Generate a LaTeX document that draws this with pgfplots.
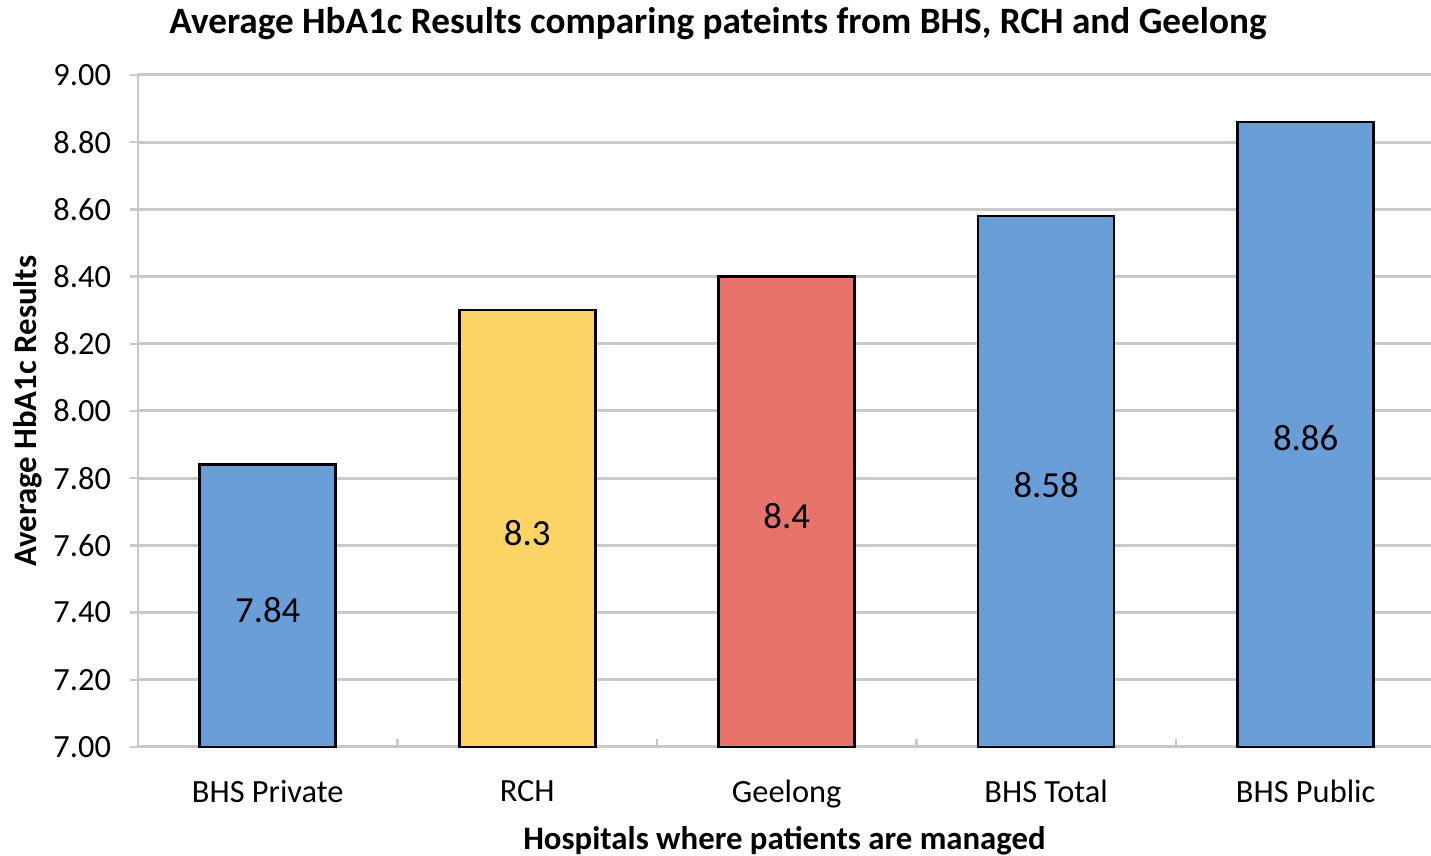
\documentclass[border=0pt]{standalone}
\usepackage{pgfplots}
\pgfplotsset{compat=1.18}
\usepackage{fontspec}
\setmainfont{Carlito}
\definecolor{cblue}{HTML}{6A9ED8}
\definecolor{cyellow}{HTML}{FCD466}
\definecolor{cred}{HTML}{E8736B}
\definecolor{cgrid}{HTML}{C9C9C9}
\begin{document}
\begin{tikzpicture}
\useasboundingbox (-69pt,-54.5pt) rectangle (646.5pt,373.5pt);
\begin{axis}[
  at={(0,0)}, anchor=south west,
  scale only axis, width=646.5pt, height=336pt,
  ybar, bar width=68pt,
  xmin=-0.5, xmax=4.483,
  ymin=7, ymax=9,
  ytick={7,7.2,...,9.01},
  yticklabel style={/pgf/number format/fixed, /pgf/number format/fixed zerofill, /pgf/number format/precision=2, xshift=-6pt},
  /pgf/number format/assume math mode=true,
  xtick={0,1,2,3,4},
  xticklabels={BHS Private, RCH, Geelong, BHS Total, BHS Public},
  minor xtick={-0.5,0.5,1.5,2.5,3.5},
  axis x line*=bottom, axis y line*=left,
  axis line style={cgrid, line width=1.2pt},
  ymajorgrids, grid style={cgrid, line width=1.5pt},
  major x tick style={draw=none},
  minor x tick style={cgrid, line width=1.2pt},
  minor tick length=4pt,
  major y tick style={cgrid, line width=1.2pt},
  major tick length=4pt,
  xtick align=inside, ytick align=outside,
  tick label style={font=\fontsize{16.2}{19}\selectfont, text=black},
  xticklabel style={yshift=-13pt},
  xlabel={\bfseries Hospitals where patients are managed},
  ylabel={\bfseries Average HbA1c Results},
  label style={font=\fontsize{16.4}{19}\selectfont\bfseries},
  xlabel style={yshift=-2.5pt},
  ylabel style={yshift=-1pt},
  clip=false,
  nodes near coords,
  visualization depends on=y \as \rawy,
  every node near coord/.append style={anchor=center, font=\fontsize{18.4}{21}\selectfont, text=black,
     shift={(axis direction cs:0,{(7-\rawy)/2})}, yshift=-2pt},
]
\addplot[fill=cblue, draw=black, line width=1.3pt, bar shift=0pt] coordinates {(0,7.84)};
\addplot[fill=cyellow, draw=black, line width=1.3pt, bar shift=0pt] coordinates {(1,8.3)};
\addplot[fill=cred, draw=black, line width=1.3pt, bar shift=0pt] coordinates {(2,8.4)};
\addplot[fill=cblue, draw=black, line width=1.3pt, bar shift=0pt] coordinates {(3,8.58)};
\addplot[fill=cblue, draw=black, line width=1.3pt, bar shift=0pt] coordinates {(4,8.86)};
\end{axis}
\node[font=\fontsize{18.6}{22}\selectfont\bfseries] at (290pt,361.5pt) {Average HbA1c Results comparing pateints from BHS, RCH and Geelong};
\end{tikzpicture}
\end{document}
